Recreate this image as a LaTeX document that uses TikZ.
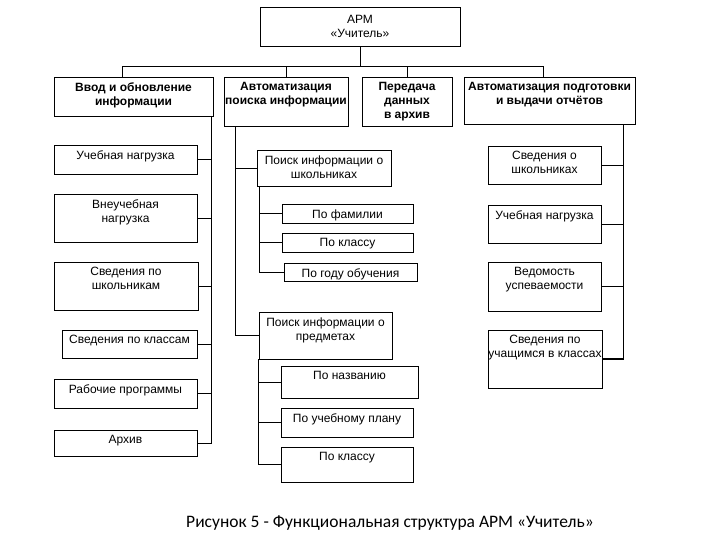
\documentclass[tikz,border=0pt]{standalone}
\usepackage{fontspec}
\setmainfont{Liberation Sans}
\newfontfamily\capfont{Carlito}
\usetikzlibrary{
  positioning
}

\begin{document}
\begin{tikzpicture}[x=1pt, y=-1pt, line width=0.8pt,
    every node/.style = {font=\fontsize{12}{14}\selectfont},
    blk/.style = {shape=rectangle, draw, inner sep=0pt},
    txt/.style = {anchor=north, align=center, inner sep=0pt, yshift=-5.5pt},
    hdr/.style = {txt, font=\bfseries\fontsize{12}{14}\selectfont}]
  \useasboundingbox (0,0) rectangle (720,540);
  % top
  \node[blk, align=center, minimum width=200, minimum height=39] (arm)
    at (360,26.5) {АРМ\\«Учитель»};
  \node[blk, minimum width=159, minimum height=39,
    label={[hdr]north:Ввод и обновление\\информации}] (in) at (133.5,96.5) {};
  \node[blk, minimum width=124, minimum height=49,
    label={[hdr]north:Автоматизация\\поиска информации}] (srch) at (286,101.5) {};
  \node[blk, minimum width=90, minimum height=49,
    label={[hdr]north:Передача\\данных\\в архив}] (arch) at (407,101.5) {};
  \node[blk, minimum width=171, minimum height=47,
    label={[hdr]north:Автоматизация подготовки\\и выдачи отчётов}] (rep) at (549.5,100.5) {};
  % left column
  \node[blk, minimum width=143, minimum height=29,
    label={[txt]north:Учебная нагрузка}] (l1) at (125.5,159.5) {};
  \node[blk, minimum width=143, minimum height=48,
    label={[txt]north:Внеучебная\\нагрузка}] (l2) at (125.5,218) {};
  \node[blk, minimum width=144, minimum height=48,
    label={[txt]north:Сведения по\\школьникам}] (l3) at (126,286) {};
  \node[blk, minimum width=135, minimum height=28,
    label={[txt]north:Сведения по классам}] (l4) at (129.5,344) {};
  \node[blk, minimum width=143, minimum height=29,
    label={[txt]north:Рабочие программы}] (l5) at (125.5,393.5) {};
  \node[blk, minimum width=143, minimum height=26,
    label={[txt]north:Архив}] (l6) at (125.5,443) {};
  % search column
  \node[blk, minimum width=134, minimum height=36,
    label={[txt]north:Поиск информации о\\школьниках}] (ps) at (324,168) {};
  \node[blk, minimum width=131, minimum height=19,
    label={[txt]north:По фамилии}] (ps1) at (347.5,213.5) {};
  \node[blk, minimum width=131, minimum height=19,
    label={[txt]north:По классу}] (ps2) at (347.5,242.5) {};
  \node[blk, minimum width=133, minimum height=18,
    label={[txt]north:По году обучения}] (ps3) at (350.5,272) {};
  \node[blk, minimum width=133, minimum height=47,
    label={[txt]north:Поиск информации о\\предметах}] (pp) at (325.5,335.5) {};
  \node[blk, minimum width=137, minimum height=32,
    label={[txt]north:По названию}] (pp1) at (349.5,382) {};
  \node[blk, minimum width=132, minimum height=29,
    label={[txt]north:По учебному плану}] (pp2) at (347,422.5) {};
  \node[blk, minimum width=132, minimum height=35,
    label={[txt]north:По классу}] (pp3) at (347,464.5) {};
  % report column
  \node[blk, minimum width=113, minimum height=38,
    label={[txt]north:Сведения о\\школьниках}] (r1) at (544.5,165) {};
  \node[blk, minimum width=113, minimum height=38,
    label={[txt]north:Учебная нагрузка}] (r2) at (544.5,224) {};
  \node[blk, minimum width=113, minimum height=49,
    label={[txt]north:Ведомость\\успеваемости}] (r3) at (544.5,286.5) {};
  \node[blk, minimum width=114, minimum height=58,
    label={[txt]north:Сведения по\\учащимся в классах}] (r4) at (545,359) {};
  % caption
  \node[font=\capfont\fontsize{17.5}{20}\selectfont] (cap) at (390,523)
    {Рисунок 5 - Функциональная структура АРМ «Учитель»};

  % connectors
  \draw (arm.south) -- ++(0,20) coordinate (hub);
  \draw ([xshift=-11pt]in.north) |- (hub) -| ([xshift=-6pt]rep.north);
  \draw (srch.north) -- (srch.north |- hub);
  \draw (arch.north) -- (arch.north |- hub);

  \coordinate (lb) at ([xshift=-2.5pt]in.south east);
  \draw (lb) |- (l6.east);
  \foreach \n in {l1,l2,l3,l4,l5}
    \draw (\n.east) -- (\n.east -| lb);

  \coordinate (mb) at ([xshift=12pt]srch.south west);
  \draw (mb) |- (pp.west);
  \draw (ps.west) -- (ps.west -| mb);

  \coordinate (sb) at ([xshift=3pt]ps.south west);
  \draw (sb) |- (ps3.west);
  \foreach \n in {ps1,ps2}
    \draw (\n.west) -- (\n.west -| sb);

  \draw (pp.south west) |- (pp3.west);
  \foreach \n in {pp1,pp2}
    \draw (\n.west) -- (\n.west -| pp.south west);

  \coordinate (rb) at ([xshift=-12pt]rep.south east);
  \draw[line width=1.6pt] (rb) |- (r4.east);
  \foreach \n in {r1,r2,r3}
    \draw (\n.east) -- (\n.east -| rb);
\end{tikzpicture}
\end{document}
